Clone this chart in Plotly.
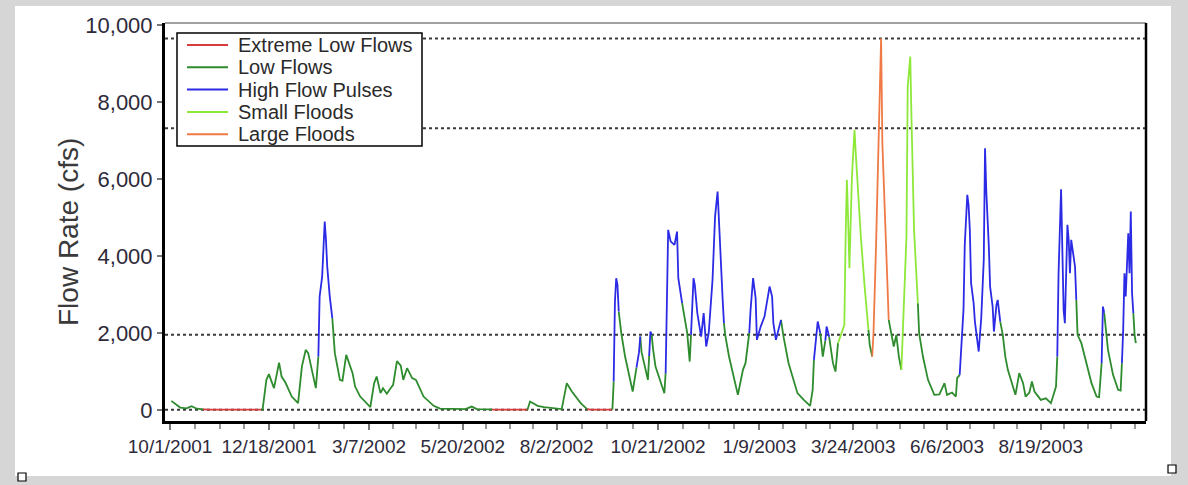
import pandas as pd
import plotly.graph_objects as go

# ---------------- data ----------------
START_DATE = "2001-10-01"

# days since START_DATE (rows of 10)
DAYS = [1, 8, 13, 17, 21, 26, 32, 72, 73, 76,
        78, 79, 82, 86, 88, 91, 96, 101, 104, 107,
        109, 111, 115, 117, 118, 120, 122, 123, 124, 126,
        128, 129, 130, 134, 136, 139, 144, 146, 150, 158,
        161, 163, 166, 168, 171, 174, 176, 179, 182, 184,
        187, 191, 194, 200, 208, 213, 233, 238, 242, 254,
        255, 282, 284, 290, 295, 309, 313, 317, 324, 329,
        332, 349, 350, 351, 352, 353, 354, 356, 359, 365,
        368, 370, 371, 372, 374, 377, 378, 379, 380, 381,
        383, 390, 391, 392, 393, 395, 398, 400, 401, 404,
        408, 410, 411, 412, 413, 414, 416, 419, 421, 423,
        425, 428, 430, 432, 434, 436, 437, 438, 441, 448,
        452, 454, 457, 458, 460, 462, 463, 466, 469, 471,
        473, 475, 476, 478, 482, 484, 488, 495, 500, 505,
        507, 508, 509, 511, 513, 515, 517, 518, 520, 523,
        525, 527, 529, 532, 533, 534, 535, 536, 538, 540,
        541, 543, 545, 548, 551, 552, 554, 555, 557, 559,
        560, 561, 562, 564, 566, 567, 569, 571, 573, 575,
        577, 578, 581, 582, 584, 585, 587, 590, 591, 594,
        598, 603, 607, 611, 613, 617, 620, 621, 623, 625,
        626, 627, 629, 630, 631, 632, 634, 635, 637, 638,
        640, 641, 642, 643, 644, 646, 647, 649, 650, 652,
        653, 655, 657, 659, 661, 665, 667, 670, 673, 675,
        678, 680, 682, 687, 691, 695, 699, 700, 701, 703,
        704, 705, 706, 707, 708, 709, 710, 711, 712, 714,
        715, 716, 719, 723, 727, 731, 733, 735, 736, 737,
        739, 740, 744, 748, 750, 751, 752, 753, 754, 756,
        757, 758, 759, 760, 761, 762]

# flow rate, cfs (rows of 10)
FLOW = [234, 60, 40, 94, 30, 10, 5, 5, 10, 780,
        928, 832, 564, 1230, 866, 710, 346, 174, 1126, 1560,
        1474, 1170, 564, 1386, 2946, 3466, 4896, 4420, 3726, 2946,
        2384, 2000, 1474, 780, 754, 1430, 954, 606, 346, 70,
        694, 866, 434, 560, 420, 564, 650, 1265, 1150, 780,
        1084, 824, 780, 346, 104, 30, 20, 86, 20, 10,
        5, 5, 216, 104, 70, 20, 694, 476, 174, 20,
        5, 5, 736, 2816, 3424, 3250, 2556, 1994, 1386, 476,
        1100, 1500, 1906, 1500, 1214, 780, 1400, 2036, 1950, 1600,
        1126, 434, 954, 2860, 4680, 4376, 4290, 4636, 3424, 2774,
        2000, 1256, 1950, 2800, 3424, 3250, 2514, 1906, 2514, 1646,
        2000, 3380, 5026, 5676, 4074, 2860, 2254, 1950, 1386, 390,
        1040, 1214, 2000, 2600, 3424, 2904, 1820, 2166, 2426, 2860,
        3206, 2946, 2254, 1820, 2340, 1906, 1214, 434, 260, 104,
        520, 1300, 1700, 2296, 1994, 1386, 1800, 2166, 1900, 1214,
        996, 1734, 1950, 2210, 4506, 5980, 4940, 3684, 6066, 7280,
        6674, 5546, 4506, 3206, 2080, 1690, 1386, 2000, 4246, 6846,
        8146, 9664, 6934, 4940, 3380, 2340, 1950, 1646, 1950, 1386,
        1040, 1900, 4506, 8406, 9186, 7540, 4680, 2774, 1994, 1386,
        780, 390, 400, 694, 390, 450, 346, 824, 910, 2080,
        2600, 4290, 5590, 5330, 4680, 3294, 2774, 2296, 1734, 1516,
        2384, 3120, 3900, 6804, 5676, 4246, 3206, 2686, 2036, 2730,
        2860, 2296, 1950, 1386, 1040, 606, 390, 954, 694, 346,
        450, 736, 476, 260, 300, 174, 606, 1386, 3554, 5736,
        4420, 2600, 2254, 3814, 4810, 4420, 3554, 4420, 4160, 3726,
        2860, 1950, 1734, 1214, 694, 346, 330, 1214, 2686, 2530,
        1950, 1560, 910, 520, 500, 1214, 2080, 3554, 2946, 4594,
        3554, 5156, 3034, 2514, 1950, 1734]

# flow class of each point (E extreme low, L low, H high pulse, S small flood, F large flood)
FLOW_CLASS = ("LLLLLLEELL"
              "LLLLLLLLLL"
              "LLLLHHHHHH"
              "HLLLLLLLLL"
              "LLLLLLLLLL"
              "LLLLLLLLLL"
              "EELLLLLLLL"
              "EELHHHHLLL"
              "LHHLLLLHHL"
              "LLLHHHHHHH"
              "LLLHHHHHHH"
              "HHHHHHHLLL"
              "LLLHHHHHHH"
              "HHHHHLLLLL"
              "LLHHHLLHHL"
              "LLSSSSSSSS"
              "SSSSSLLFFF"
              "FFFFFFLLLL"
              "LSSSSSSSLL"
              "LLLLLLLLLH"
              "HHHHHHHHHH"
              "HHHHHHHHHH"
              "HHLLLLLLLL"
              "LLLLLLLLHH"
              "HHHHHHHHHH"
              "HLLLLLLLHH"
              "LLLLLLHHHH"
              "HHHHLL")

CLASS_CODES = ["E", "L", "H", "S", "F"]
CLASS_NAMES = ["Extreme Low Flows", "Low Flows", "High Flow Pulses", "Small Floods", "Large Floods"]
CLASS_COLORS = ["#d83c3c", "#2e8b2e", "#2b2be6", "#8ee83a", "#f07a45"]

THRESHOLDS = [0, 1950, 7325, 9660]

TICK_DATES = ["2001-10-01", "2001-12-18", "2002-03-07", "2002-05-20", "2002-08-02",
              "2002-10-21", "2003-01-09", "2003-03-24", "2003-06-06", "2003-08-19"]
TICK_LABELS = ["10/1/2001", "12/18/2001", "3/7/2002", "5/20/2002", "8/2/2002",
               "10/21/2002", "1/9/2003", "3/24/2003", "6/6/2003", "8/19/2003"]
Y_TICKS = [0, 2000, 4000, 6000, 8000, 10000]

# ---------------- build ----------------
n = min(len(DAYS), len(FLOW), len(FLOW_CLASS))
dates = list(pd.Timestamp(START_DATE) + pd.to_timedelta(DAYS[:n], unit="D"))
flows = FLOW[:n]
cls = FLOW_CLASS[:n]

FONT = "Liberation Sans, Arial, sans-serif"
fig = go.Figure()

for code, name, color in zip(CLASS_CODES, CLASS_NAMES, CLASS_COLORS):
    xs, ys = [], []
    prev_in = False
    for i in range(1, n):
        if cls[i] == code:
            if not prev_in:
                if xs:
                    xs.append(None)
                    ys.append(None)
                xs.append(dates[i - 1])
                ys.append(flows[i - 1])
            xs.append(dates[i])
            ys.append(flows[i])
            prev_in = True
        else:
            prev_in = False
    fig.add_trace(go.Scatter(x=xs, y=ys, mode="lines", name=name,
                             line=dict(color=color, width=1.8),
                             connectgaps=False, hoverinfo="skip", showlegend=False))

# threshold dotted lines
for t in THRESHOLDS:
    fig.add_shape(type="line", xref="paper", yref="y", x0=0, x1=1, y0=t, y1=t,
                  line=dict(color="#3a3a3a", width=2, dash="dot"), layer="below")

# minor ticks at quarter spacing between labelled dates
tick_ts = [pd.Timestamp(d) for d in TICK_DATES]
minor = []
for a, b in zip(tick_ts[:-1], tick_ts[1:]):
    for k in (1, 2, 3):
        minor.append(a + (b - a) * k / 4)
step = (tick_ts[-1] - tick_ts[-2]) / 4
for k in range(1, 5):
    minor.append(tick_ts[-1] + step * k)

# frame geometry helpers (pixel -> paper)
L_PX, R_PX, T_PX, B_PX = 165, 1146, 23, 421
W_PX, H_PX = 1188, 485
def px_x(p):
    return (p - L_PX) / (R_PX - L_PX)
def px_y(p):
    return (B_PX - p) / (B_PX - T_PX)

# grey border around the white card
GREY = "#d6d6d6"
for (ax0, ay0, ax1, ay1) in [(0, 0, W_PX, 6), (0, 476, W_PX, H_PX), (0, 0, 15, H_PX), (1171, 0, W_PX, H_PX)]:
    fig.add_shape(type="rect", xref="paper", yref="paper", x0=px_x(ax0), x1=px_x(ax1),
                  y0=px_y(ay1), y1=px_y(ay0), fillcolor=GREY, line=dict(width=0), layer="below")
# top and right frame lines
fig.add_shape(type="line", xref="paper", yref="paper", x0=0, x1=1, y0=1, y1=1,
              line=dict(color="#444444", width=1))
fig.add_shape(type="line", xref="paper", yref="paper", x0=1, x1=1, y0=0, y1=1,
              line=dict(color="black", width=2.5))
# resize handles
for (hx, hy) in [(18, 473), (1168, 465)]:
    fig.add_shape(type="rect", xref="paper", yref="paper", x0=px_x(hx), x1=px_x(hx + 8),
                  y0=px_y(hy + 8), y1=px_y(hy), fillcolor="white",
                  line=dict(color="black", width=1.2))

# legend (drawn box with line samples and text)
LEG_L, LEG_R, LEG_T, LEG_B = 177, 422, 33, 146
fig.add_shape(type="rect", xref="paper", yref="paper", x0=px_x(LEG_L), x1=px_x(LEG_R),
              y0=px_y(LEG_B), y1=px_y(LEG_T), fillcolor="white",
              line=dict(color="black", width=1.5))
for k, (name, color) in enumerate(zip(CLASS_NAMES, CLASS_COLORS)):
    row_y = 45 + k * 22.3
    fig.add_shape(type="line", xref="paper", yref="paper", x0=px_x(187), x1=px_x(228),
                  y0=px_y(row_y), y1=px_y(row_y), line=dict(color=color, width=2))
    fig.add_annotation(text=name, xref="paper", yref="paper", x=px_x(236), y=px_y(row_y),
                       xanchor="left", yanchor="middle", showarrow=False,
                       font=dict(family=FONT, size=20, color="#2a2a2a"))

fig.add_annotation(text="Flow Rate (cfs)", textangle=-90, xref="paper", yref="paper",
                   x=px_x(68), y=px_y(232), xanchor="center", yanchor="middle", showarrow=False,
                   font=dict(family=FONT, size=28, color="#3a3a3a"))

fig.update_layout(
    width=W_PX, height=H_PX,
    margin=dict(l=L_PX, r=W_PX - R_PX, t=T_PX, b=H_PX - B_PX),
    paper_bgcolor="white", plot_bgcolor="white",
    showlegend=False,
    xaxis=dict(type="date", range=["2001-09-27", "2003-11-10"],
               tickmode="array", tickvals=TICK_DATES, ticktext=TICK_LABELS,
               ticks="outside", ticklen=6, tickcolor="#777777", tickwidth=1.5,
               minor=dict(tickvals=minor, ticks="outside", ticklen=5, tickcolor="#999999"),
               showgrid=False, zeroline=False, showline=True, linecolor="black", linewidth=3,
               tickfont=dict(family=FONT, size=19, color="#2e2a3a")),
    yaxis=dict(range=[-290, 10060], tickmode="array", tickvals=Y_TICKS, tickformat=",d",
               ticks="outside", ticklen=5, tickcolor="#777777", tickwidth=1.5,
               showgrid=False, zeroline=False, showline=True, linecolor="black", linewidth=3,
               tickfont=dict(family=FONT, size=22, color="#2e2a3a")),
)

fig.write_html("out.html", config={"displayModeBar": False},
               post_script="document.body.style.margin='0px';")
